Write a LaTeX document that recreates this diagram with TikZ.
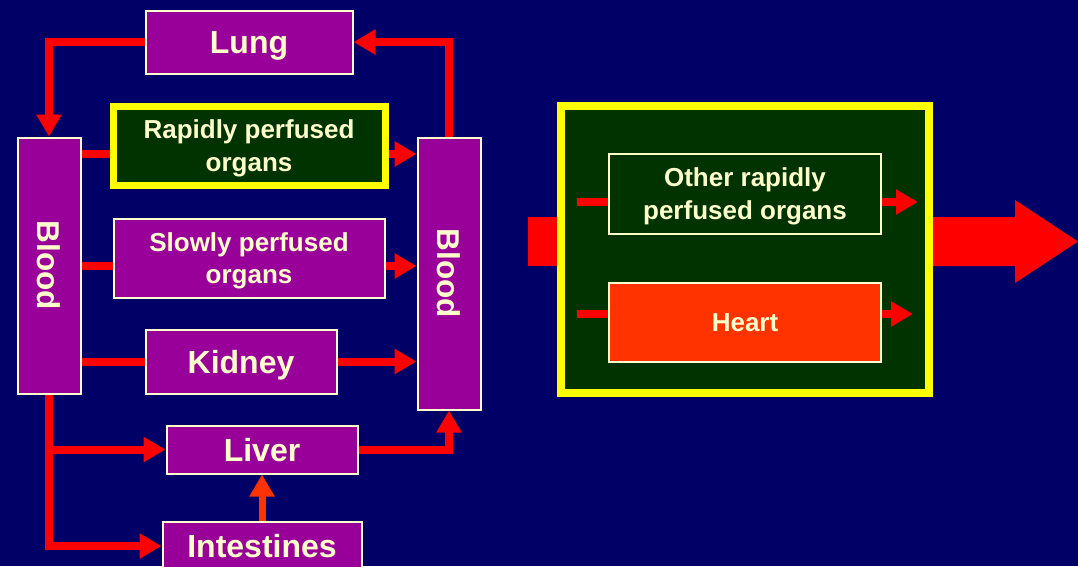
\documentclass[tikz,border=0pt]{standalone}
\usepackage{fontspec}
\setmainfont{Liberation Sans}
\usetikzlibrary{arrows.meta,calc}
\definecolor{navy}{HTML}{000066}
\definecolor{purp}{HTML}{990099}
\definecolor{cream}{HTML}{FFFFCC}
\definecolor{dgreen}{HTML}{003300}
\definecolor{yel}{HTML}{FFFF00}
\definecolor{ored}{HTML}{FF3300}
\definecolor{rred}{HTML}{FF0000}
\begin{document}
\begin{tikzpicture}[x=1pt,y=-1pt,
  organ/.style={draw=cream, line width=2pt, fill=purp, inner sep=0pt, text=cream,
    font=\bfseries\fontsize{32}{36}\selectfont, text height=23pt, text depth=0pt, align=center},
  twoline/.style={font=\bfseries\fontsize{26}{32.5}\selectfont, text height=51.1pt, text depth=0pt},
  oneline26/.style={font=\bfseries\fontsize{26}{32.5}\selectfont, text height=18.6pt, text depth=0pt},
  yframe/.style={draw=yel, fill=dgreen},
  bloodtxt/.style={text=cream, font=\bfseries\fontsize{31.5}{36}\selectfont, text height=22.5pt, text depth=0pt, inner sep=0pt},
  ln/.style={draw=rred, line width=8pt},
  arr/.style={draw=rred, line width=8pt, -{Triangle[length=22pt,width=24pt]}},
]
\useasboundingbox (0,0) rectangle (1078,566);
\clip (0,0) rectangle (1078,566);
\fill[navy] (0,0) rectangle (1078,566);

% left diagram boxes
\node[organ, minimum width=207, minimum height=63] (lung) at (249,42) {Lung};
\node[organ, twoline, yframe, line width=7pt, minimum width=272, minimum height=79] (rapid) at (249,145.5) {Rapidly perfused\\organs};
\node[organ, twoline, minimum width=271, minimum height=79] (slow) at (249,258) {Slowly perfused\\organs};
\node[organ, minimum width=191, minimum height=64] (kidney) at (241,361.5) {Kidney};
\node[organ, minimum width=191, minimum height=48] (liver) at (262,449.5) {Liver};
\node[organ, minimum width=199, minimum height=48] (intest) at (262,546) {Intestines};
\node[organ, minimum width=63, minimum height=256] (bloodL) at (49,265.5) {};
\node[organ, minimum width=63, minimum height=272] (bloodR) at (449,273.5) {};
\node[bloodtxt, rotate=-90] (bLt) at (bloodL.center) {Blood};
\node[bloodtxt, rotate=-90] (bRt) at (bloodR.center) {Blood};

% connectors
\draw[arr] (lung.west) -| (bloodL.north);
\draw[arr] (bloodR.north) |- (lung.east);
\coordinate (r1) at ($(rapid.center)+(0,8.5)$);
\draw[ln] (bloodL.east |- r1) -- (rapid.west |- r1);
\draw[arr] (rapid.east |- r1) -- (bloodR.west |- r1);
\coordinate (s1) at ($(slow.center)+(0,8)$);
\draw[ln] (bloodL.east |- s1) -- (slow.west |- s1);
\draw[arr] (slow.east |- s1) -- (bloodR.west |- s1);
\draw[ln] (bloodL.east |- kidney.west) -- (kidney.west);
\draw[arr] (kidney.east) -- (bloodR.west |- kidney.east);
\draw[arr] (bloodL.south) |- (intest.west);
\draw[arr] (bloodL.south |- liver.west) -- (liver.west);
\draw[arr] (liver.east) -| (bloodR.south);
\draw[color=ored, line width=7pt, -{Triangle[length=22pt,width=24pt]}] (intest.north) -- (liver.south);

% right panel
\fill[rred] (528,217) rectangle (570,266);
\fill[rred] (925,217) -- (1015,217) -- (1015,200) -- (1078,241.5) -- (1015,283) -- (1015,266) -- (925,266) -- cycle;
\node[yframe, line width=8pt, minimum width=368, minimum height=287] (panel) at (745,249.5) {};
\node[organ, twoline, fill=dgreen, minimum width=272, minimum height=80] (other) at (745,193.5) {Other rapidly\\perfused organs};
\node[organ, oneline26, fill=ored, minimum width=272, minimum height=79] (heart) at (745,322) {Heart};
\coordinate (o1) at ($(other.west)+(-31,8.5)$);
\coordinate (o2) at ($(other.east)+(36,8.5)$);
\draw[ln] (o1) -- (other.west |- o1);
\draw[arr] (other.east |- o2) -- (o2);
\coordinate (h1) at ($(heart.west)+(-31,-8)$);
\coordinate (h2) at ($(heart.east)+(31,-8)$);
\draw[ln] (h1) -- (heart.west |- h1);
\draw[arr] (heart.east |- h2) -- (h2);
\end{tikzpicture}
\end{document}
